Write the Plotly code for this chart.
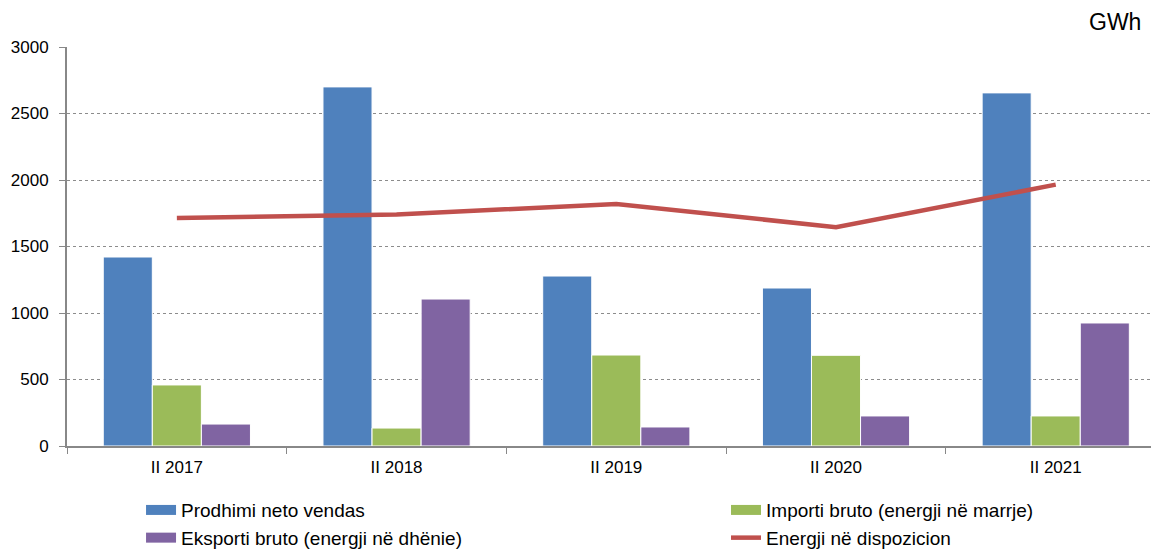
import plotly.graph_objects as go

categories = ["II 2017", "II 2018", "II 2019", "II 2020", "II 2021"]
prodhimi = [1421, 2700, 1278, 1188, 2655]
importi = [459, 135, 684, 682, 226]
eksporti = [165, 1105, 143, 226, 925]
energji = [1715, 1740, 1820, 1645, 1965]
y_ticks = [0, 500, 1000, 1500, 2000, 2500, 3000]

c_prod = "#4F81BD"
c_imp = "#9BBB59"
c_eks = "#8064A2"
c_en = "#C0504D"

fig = go.Figure()
fig.add_bar(x=categories, y=prodhimi, name="Prodhimi neto vendas", showlegend=False,
            marker=dict(color=c_prod, line=dict(color="#ffffff", width=1)))
fig.add_bar(x=categories, y=importi, name="Importi bruto (energji në marrje)", showlegend=False,
            marker=dict(color=c_imp, line=dict(color="#ffffff", width=1)))
fig.add_bar(x=categories, y=eksporti, name="Eksporti bruto (energji në dhënie)", showlegend=False,
            marker=dict(color=c_eks, line=dict(color="#ffffff", width=1)))
fig.add_scatter(x=categories, y=energji, name="Energji në dispozicion", mode="lines",
                line=dict(color=c_en, width=4.5), legend="legend2", legendrank=2)

# legend keys (wide rectangles like the original)
fig.add_scatter(x=[None], y=[None], mode="lines", name="Prodhimi neto vendas",
                line=dict(color=c_prod, width=12), legend="legend", legendrank=1)
fig.add_scatter(x=[None], y=[None], mode="lines", name="Eksporti bruto (energji në dhënie)",
                line=dict(color=c_eks, width=12), legend="legend", legendrank=2)
fig.add_scatter(x=[None], y=[None], mode="lines", name="Importi bruto (energji në marrje)",
                line=dict(color=c_imp, width=12), legend="legend2", legendrank=1)

# page body has an 8px margin: figure is sized/offset to compensate
fig.update_layout(
    width=1151, height=542,
    margin=dict(l=59, r=0, t=39, b=104, autoexpand=False),
    plot_bgcolor="white", paper_bgcolor="white",
    font=dict(family="Liberation Sans, Arial", size=17, color="#000000"),
    barmode="group", bargap=0.33, bargroupgap=0,
    showlegend=True,
    legend=dict(orientation="v", x=0.0678, xanchor="left", y=-0.113, yanchor="top",
                font=dict(size=19), bgcolor="rgba(0,0,0,0)"),
    legend2=dict(orientation="v", x=0.6035, xanchor="left", y=-0.113, yanchor="top",
                 font=dict(size=19), bgcolor="rgba(0,0,0,0)"),
    annotations=[dict(text="GWh", x=0.96, xref="paper", y=1.0, yref="paper",
                      xanchor="center", yanchor="middle", yshift=25,
                      showarrow=False, font=dict(size=23))],
)
fig.update_xaxes(range=[-0.5, 4.47], showline=True, linecolor="#888888", linewidth=2,
                 ticks="outside", ticklen=6, tickcolor="#888888", tickson="boundaries",
                 showgrid=False, tickfont=dict(size=17), ticklabelstandoff=5)
fig.update_yaxes(range=[0, 3000], tickvals=y_ticks, showline=True, linecolor="#888888",
                 linewidth=2, ticks="outside", ticklen=6, tickcolor="#888888",
                 showgrid=True, gridcolor="#8c8c8c", griddash="dot", gridwidth=1,
                 zeroline=False, tickfont=dict(size=17), ticklabelstandoff=7)

fig.write_html("out.html")
